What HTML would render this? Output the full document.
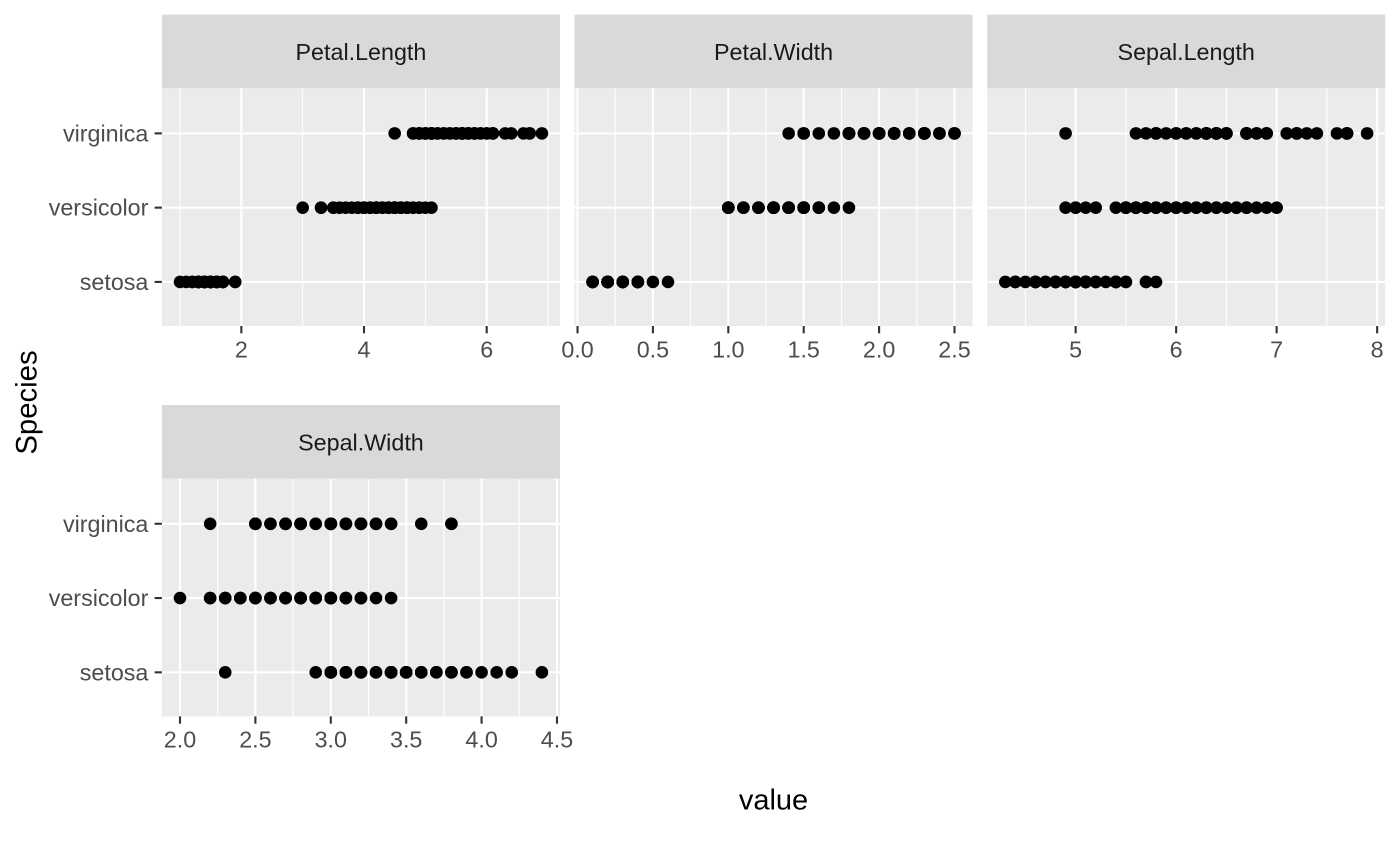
<!DOCTYPE html>
<html lang="en">
<head>
<meta charset="utf-8">
<title>Iris measurements by species</title>
<style>
html,body{margin:0;padding:0;background:#fff;}
svg{display:block;font-family:"Liberation Sans",Arial,sans-serif;}
</style>
</head>
<body>
<svg id="chart" xmlns="http://www.w3.org/2000/svg" width="1400" height="866" viewBox="0 0 1400 866">
  <rect x="0" y="0" width="1400" height="866" fill="#fff"/>
  <text x="773.5" y="809.4" font-size="29" text-anchor="middle" fill="#000">value</text>
  <text transform="translate(36.5,402.5) rotate(-90)" font-size="29.3" text-anchor="middle" fill="#000">Species</text>
</svg>
<script>
const speciesLevels = ['setosa', 'versicolor', 'virginica'];

const setosaSepalLength = [5.1,4.9,4.7,4.6,5.0,5.4,4.6,5.0,4.4,4.9,5.4,4.8,4.8,4.3,5.8,5.7,5.4,5.1,5.7,5.1,5.4,5.1,4.6,5.1,4.8,5.0,5.0,5.2,5.2,4.7,4.8,5.4,5.2,5.5,4.9,5.0,5.5,4.9,4.4,5.1,5.0,4.5,4.4,5.0,5.1,4.8,5.1,4.6,5.3,5.0];
const setosaSepalWidth = [3.5,3.0,3.2,3.1,3.6,3.9,3.4,3.4,2.9,3.1,3.7,3.4,3.0,3.0,4.0,4.4,3.9,3.5,3.8,3.8,3.4,3.7,3.6,3.3,3.4,3.0,3.4,3.5,3.4,3.2,3.1,3.4,4.1,4.2,3.1,3.2,3.5,3.6,3.0,3.4,3.5,2.3,3.2,3.5,3.8,3.0,3.8,3.2,3.7,3.3];
const setosaPetalLength = [1.4,1.4,1.3,1.5,1.4,1.7,1.4,1.5,1.4,1.5,1.5,1.6,1.4,1.1,1.2,1.5,1.3,1.4,1.7,1.5,1.7,1.5,1.0,1.7,1.9,1.6,1.6,1.5,1.4,1.6,1.6,1.5,1.5,1.4,1.5,1.2,1.3,1.4,1.3,1.5,1.3,1.3,1.3,1.6,1.9,1.4,1.6,1.4,1.5,1.4];
const setosaPetalWidth = [0.2,0.2,0.2,0.2,0.2,0.4,0.3,0.2,0.2,0.1,0.2,0.2,0.1,0.1,0.2,0.4,0.4,0.3,0.3,0.3,0.2,0.4,0.2,0.5,0.2,0.2,0.4,0.2,0.2,0.2,0.2,0.4,0.1,0.2,0.2,0.2,0.2,0.1,0.2,0.2,0.3,0.3,0.2,0.6,0.4,0.3,0.2,0.2,0.2,0.2];

const versicolorSepalLength = [7.0,6.4,6.9,5.5,6.5,5.7,6.3,4.9,6.6,5.2,5.0,5.9,6.0,6.1,5.6,6.7,5.6,5.8,6.2,5.6,5.9,6.1,6.3,6.1,6.4,6.6,6.8,6.7,6.0,5.7,5.5,5.5,5.8,6.0,5.4,6.0,6.7,6.3,5.6,5.5,5.5,6.1,5.8,5.0,5.6,5.7,5.7,6.2,5.1,5.7];
const versicolorSepalWidth = [3.2,3.2,3.1,2.3,2.8,2.8,3.3,2.4,2.9,2.7,2.0,3.0,2.2,2.9,2.9,3.1,3.0,2.7,2.2,2.5,3.2,2.8,2.5,2.8,2.9,3.0,2.8,3.0,2.9,2.6,2.4,2.4,2.7,2.7,3.0,3.4,3.1,2.3,3.0,2.5,2.6,3.0,2.6,2.3,2.7,3.0,2.9,2.9,2.5,2.8];
const versicolorPetalLength = [4.7,4.5,4.9,4.0,4.6,4.5,4.7,3.3,4.6,3.9,3.5,4.2,4.0,4.7,3.6,4.4,4.5,4.1,4.5,3.9,4.8,4.0,4.9,4.7,4.3,4.4,4.8,5.0,4.5,3.5,3.8,3.7,3.9,5.1,4.5,4.5,4.7,4.4,4.1,4.0,4.4,4.6,4.0,3.3,4.2,4.2,4.2,4.3,3.0,4.1];
const versicolorPetalWidth = [1.4,1.5,1.5,1.3,1.5,1.3,1.6,1.0,1.3,1.4,1.0,1.5,1.0,1.4,1.3,1.4,1.5,1.0,1.5,1.1,1.8,1.3,1.5,1.2,1.3,1.4,1.4,1.7,1.5,1.0,1.1,1.0,1.2,1.6,1.5,1.6,1.5,1.3,1.3,1.3,1.2,1.4,1.2,1.0,1.3,1.2,1.3,1.3,1.1,1.3];

const virginicaSepalLength = [6.3,5.8,7.1,6.3,6.5,7.6,4.9,7.3,6.7,7.2,6.5,6.4,6.8,5.7,5.8,6.4,6.5,7.7,7.7,6.0,6.9,5.6,7.7,6.3,6.7,7.2,6.2,6.1,6.4,7.2,7.4,7.9,6.4,6.3,6.1,7.7,6.3,6.4,6.0,6.9,6.7,6.9,5.8,6.8,6.7,6.7,6.3,6.5,6.2,5.9];
const virginicaSepalWidth = [3.3,2.7,3.0,2.9,3.0,3.0,2.5,2.9,2.5,3.6,3.2,2.7,3.0,2.5,2.8,3.2,3.0,3.8,2.6,2.2,3.2,2.8,2.8,2.7,3.3,3.2,2.8,3.0,2.8,3.0,2.8,3.8,2.8,2.8,2.6,3.0,3.4,3.1,3.0,3.1,3.1,3.1,2.7,3.2,3.3,3.0,2.5,3.0,3.4,3.0];
const virginicaPetalLength = [6.0,5.1,5.9,5.6,5.8,6.6,4.5,6.3,5.8,6.1,5.1,5.3,5.5,5.0,5.1,5.3,5.5,6.7,6.9,5.0,5.7,4.9,6.7,4.9,5.7,6.0,4.8,4.9,5.6,5.8,6.1,6.4,5.6,5.1,5.6,6.1,5.6,5.5,4.8,5.4,5.6,5.1,5.1,5.9,5.7,5.2,5.0,5.2,5.4,5.1];
const virginicaPetalWidth = [2.5,1.9,2.1,1.8,2.2,2.1,1.7,1.8,1.8,2.5,2.0,1.9,2.1,2.0,2.4,2.3,1.8,2.2,2.3,1.5,2.3,2.0,2.0,1.8,2.1,1.8,1.8,1.8,2.1,1.6,1.9,2.0,2.2,1.5,1.4,2.3,2.4,1.8,1.8,2.1,2.4,2.3,1.9,2.3,2.5,2.3,1.9,2.0,2.3,1.8];

const petalLengthTicks = ['2', '4', '6'];
const petalLengthMinorTicks = [1, 3, 5, 7];
const petalLengthLimits = [1.0, 6.9];
const petalWidthTicks = ['0.0', '0.5', '1.0', '1.5', '2.0', '2.5'];
const petalWidthMinorTicks = [0.25, 0.75, 1.25, 1.75, 2.25];
const petalWidthLimits = [0.1, 2.5];
const sepalLengthTicks = ['5', '6', '7', '8'];
const sepalLengthMinorTicks = [4.5, 5.5, 6.5, 7.5];
const sepalLengthLimits = [4.3, 7.9];
const sepalWidthTicks = ['2.0', '2.5', '3.0', '3.5', '4.0', '4.5'];
const sepalWidthMinorTicks = [2.25, 2.75, 3.25, 3.75, 4.25];
const sepalWidthLimits = [2.0, 4.4];

const NS = 'http://www.w3.org/2000/svg';
const chart = document.getElementById('chart');

function make(tag, attrs, parent, text) {
  const el = document.createElementNS(NS, tag);
  for (const k in attrs) el.setAttribute(k, attrs[k]);
  if (text !== undefined) el.textContent = text;
  parent.appendChild(el);
  return el;
}

function drawPanel(cfg) {
  const left = cfg.left, right = cfg.right, top = cfg.top, bottom = cfg.bottom;
  const span = cfg.limits[1] - cfg.limits[0];
  const xMin = cfg.limits[0] - span * 0.05;
  const xMax = cfg.limits[1] + span * 0.05;
  const xScale = v => left + (v - xMin) / (xMax - xMin) * (right - left);
  const yScale = i => bottom + 0.5 - (i + 0.6) / 3.2 * (bottom - top);

  const g = make('g', {}, chart);
  
  

  const strip = make('rect', {x: left, y: cfg.stripTop, width: right - left, height: top - cfg.stripTop, fill: '#D9D9D9'}, g);
  
  

  const stripLabel = make('text', {x: (left + right) / 2, y: (cfg.stripTop + top) / 2 + 8.4, 'font-size': 23.3, 'text-anchor': 'middle', fill: '#1A1A1A'}, g, cfg.title);
  
  

  const bg = make('rect', {x: left, y: top, width: right - left, height: bottom - top, fill: '#EBEBEB'}, g);
  
  

  cfg.minor.forEach(v => {
    const line = make('line', {x1: xScale(v), x2: xScale(v), y1: top, y2: bottom, stroke: '#fff', 'stroke-width': 1.05}, g);
    
    
  });
  cfg.ticks.forEach(t => {
    const x = xScale(parseFloat(t));
    const line = make('line', {x1: x, x2: x, y1: top, y2: bottom, stroke: '#fff', 'stroke-width': 2.1}, g);
    
    
  });
  speciesLevels.forEach((s, i) => {
    const line = make('line', {x1: left, x2: right, y1: yScale(i), y2: yScale(i), stroke: '#fff', 'stroke-width': 2.1}, g);
    
    
  });

  cfg.ticks.forEach(t => {
    const x = xScale(parseFloat(t));
    const tick = make('line', {x1: x, x2: x, y1: bottom, y2: bottom + 7.3, stroke: '#333333', 'stroke-width': 2.1}, g);
    
    
    const label = make('text', {x: x, y: bottom + 31.3, 'font-size': 23.3, 'text-anchor': 'middle', fill: '#4D4D4D'}, g, t);
    
    
  });

  if (cfg.showY) {
    speciesLevels.forEach((s, i) => {
      const y = yScale(i);
      const tick = make('line', {x1: left - 7.3, x2: left, y1: y, y2: y, stroke: '#333333', 'stroke-width': 2.1}, g);
      
      
      const label = make('text', {x: left - 13.5, y: y + 8, 'font-size': 23.3, 'text-anchor': 'end', fill: '#4D4D4D'}, g, s);
      
      
    });
  }

  cfg.series.forEach((values, i) => {
    values.forEach(v => {
      const dot = make('circle', {cx: xScale(v), cy: yScale(i), r: 6.3, fill: '#000'}, g);
      
      
    });
  });
}

drawPanel({slug: 'petal-length', title: 'Petal.Length', left: 161.9, right: 560, stripTop: 14.6, top: 88.3, bottom: 326,
  limits: petalLengthLimits, ticks: petalLengthTicks, minor: petalLengthMinorTicks, showY: true,
  series: [setosaPetalLength, versicolorPetalLength, virginicaPetalLength]});
drawPanel({slug: 'petal-width', title: 'Petal.Width', left: 574.5, right: 972.6, stripTop: 14.6, top: 88.3, bottom: 326,
  limits: petalWidthLimits, ticks: petalWidthTicks, minor: petalWidthMinorTicks, showY: false,
  series: [setosaPetalWidth, versicolorPetalWidth, virginicaPetalWidth]});
drawPanel({slug: 'sepal-length', title: 'Sepal.Length', left: 987.2, right: 1385.2, stripTop: 14.6, top: 88.3, bottom: 326,
  limits: sepalLengthLimits, ticks: sepalLengthTicks, minor: sepalLengthMinorTicks, showY: false,
  series: [setosaSepalLength, versicolorSepalLength, virginicaSepalLength]});
drawPanel({slug: 'sepal-width', title: 'Sepal.Width', left: 161.9, right: 560, stripTop: 405, top: 478.7, bottom: 716.4,
  limits: sepalWidthLimits, ticks: sepalWidthTicks, minor: sepalWidthMinorTicks, showY: true,
  series: [setosaSepalWidth, versicolorSepalWidth, virginicaSepalWidth]});
</script>
</body>
</html>
